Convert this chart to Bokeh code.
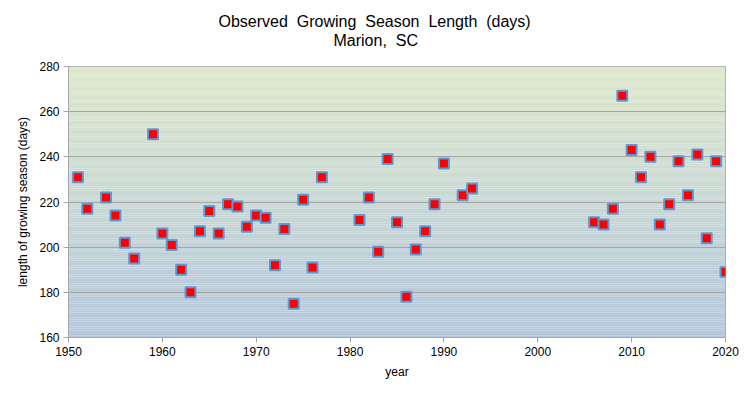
from bokeh.plotting import figure
from bokeh.models import Title, FixedTicker, Range1d
from bokeh.embed import file_html
from bokeh.resources import INLINE
import numpy as np

years = [1951, 1952, 1954, 1955, 1956, 1957, 1959, 1960, 1961, 1962, 1963, 1964,
         1965, 1966, 1967, 1968, 1969, 1970, 1971, 1972, 1973, 1974, 1975, 1976,
         1977, 1981, 1982, 1983, 1984, 1985, 1986, 1987, 1988, 1989, 1990, 1992,
         1993, 2006, 2007, 2008, 2009, 2010, 2011, 2012, 2013, 2014, 2015, 2016,
         2017, 2018, 2019, 2020]
season_days = [231, 217, 222, 214, 202, 195, 250, 206, 201, 190, 180, 207,
               216, 206, 219, 218, 209, 214, 213, 192, 208, 175, 221, 191,
               231, 212, 222, 198, 239, 211, 178, 199, 207, 219, 237, 223,
               226, 211, 210, 217, 267, 243, 231, 240, 210, 219, 238, 223,
               241, 204, 238, 189]
x_ticks = [1950, 1960, 1970, 1980, 1990, 2000, 2010, 2020]
y_ticks = [160, 180, 200, 220, 240, 260, 280]

FONT = "Liberation Sans"
NB = " \u00a0"
title_line1 = NB.join(["Observed", "Growing", "Season", "Length", "(days)"])
title_line2 = NB.join(["Marion,", "SC"])

p = figure(width=755, height=395, output_backend="svg", toolbar_location=None,
           x_range=Range1d(1950, 2020), y_range=Range1d(160, 280),
           min_border_left=68, min_border_right=30, min_border_top=66,
           min_border_bottom=58, title=None)

# blank spacer (white non-breaking space) between the subtitle and the plot area
spacer = Title(text="\u00a0", text_font=FONT, text_font_size="12px",
               text_color="#ffffff", standoff=2)
t2 = Title(text=title_line2, align="left", offset=265, text_font=FONT,
           text_font_size="16px", text_font_style="normal", text_color="#000000",
           standoff=0)
t1 = Title(text=title_line1, align="left", offset=150, text_font=FONT,
           text_font_size="16px", text_font_style="normal", text_color="#000000",
           standoff=0)
p.add_layout(spacer, "above")
p.add_layout(t2, "above")
p.add_layout(t1, "above")

# background gradient (green at top -> blue at bottom)
n = 120
top = np.array([0xdd, 0xe8, 0xcb], dtype=float)
bot = np.array([0xb4, 0xc7, 0xde], dtype=float)
edges = np.linspace(160, 280, n + 1)
cols = []
for i in range(n):
    f = (i + 0.5) / n
    c = bot + (top - bot) * f
    cols.append("#%02x%02x%02x" % tuple(int(round(v)) for v in c))
p.quad(left=1950, right=2020, bottom=edges[:-1], top=edges[1:], fill_color=cols,
       line_color=None, level="underlay")

p.background_fill_color = "#ffffff"
p.border_fill_color = "#ffffff"
p.outline_line_color = "#a6a6a6"
p.outline_line_width = 1

p.scatter(years, season_days, marker="square", size=10, fill_color="#ff0000",
          line_color="#5b9bd5", line_width=2)

p.xgrid.visible = False
p.ygrid.grid_line_color = "#a6a6a6"
p.ygrid.grid_line_width = 1
p.ygrid.level = "underlay"

for ax in (p.xaxis, p.yaxis):
    ax.axis_line_color = "#a6a6a6"
    ax.major_tick_line_color = "#a6a6a6"
    ax.major_tick_out = 5
    ax.major_tick_in = 0
    ax.minor_tick_line_color = None
    ax.major_label_text_font = FONT
    ax.major_label_text_font_size = "12px"
    ax.major_label_text_color = "#000000"
    ax.axis_label_text_font = FONT
    ax.axis_label_text_font_size = "12px"
    ax.axis_label_text_font_style = "normal"
    ax.axis_label_text_color = "#000000"

p.xaxis.ticker = FixedTicker(ticks=x_ticks)
p.yaxis.ticker = FixedTicker(ticks=y_ticks)
p.xaxis.axis_label = "year"
p.yaxis.axis_label = "length of growing season (days)"
p.xaxis.major_label_standoff = 4
p.yaxis.major_label_standoff = 4
p.xaxis.axis_label_standoff = 6
p.yaxis.axis_label_standoff = 6

open("out.html", "w").write(file_html(p, INLINE))
